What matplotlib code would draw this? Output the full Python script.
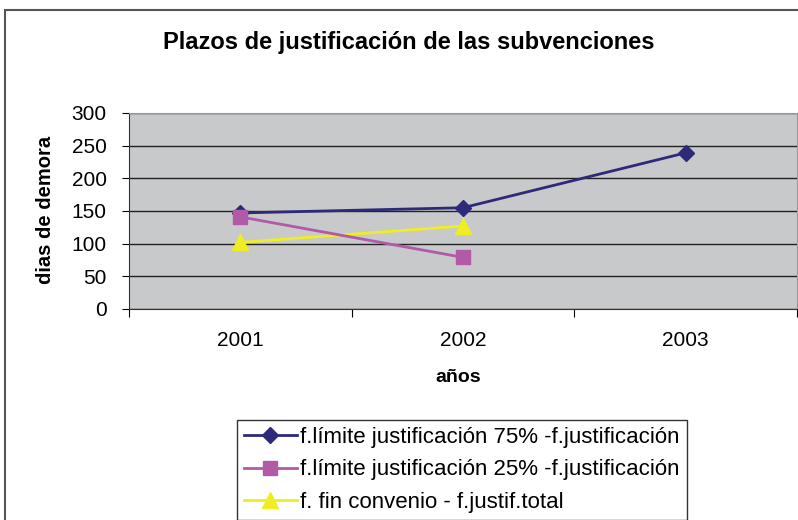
import matplotlib
matplotlib.use("Agg")
import matplotlib.pyplot as plt
from matplotlib.patches import Rectangle

# Datos
years = ["2001", "2002", "2003"]
lim75 = [147, 155, 239]
lim25 = [141, 79]
fin_conv = [102, 127]

labels = [
    "f.límite justificación 75% -f.justificación",
    "f.límite justificación 25% -f.justificación",
    "f. fin convenio - f.justif.total",
]

plt.rcParams["font.family"] = ["Liberation Sans", "DejaVu Sans"]

fig = plt.figure(figsize=(7.98, 5.20), dpi=100)
ax = fig.add_axes([129 / 798, 1 - 309 / 520, (797 - 129) / 798, (309 - 113) / 520])

x = list(range(len(years)))
ax.plot(x, lim75, color="#2E2A7A", lw=2, marker="D", ms=8, label=labels[0], zorder=3)
ax.plot(x[:2], lim25, color="#B05AA8", lw=2, marker="s", ms=10, label=labels[1], zorder=4)
ax.plot(x[:2], fin_conv, color="#EEEE22", lw=2, marker="^", ms=11, label=labels[2], zorder=3)

ax.set_facecolor("#C8C9CB")
ax.set_xlim(-0.5, 2.5)
ax.set_ylim(0, 300)
ax.set_yticks(range(0, 301, 50))
ax.set_xticks([-0.5, 0.5, 1.5, 2.5], minor=False)
ax.set_xticklabels([])
ax.set_xticks(x, minor=True)
ax.set_xticklabels(years, minor=True)
ax.tick_params(axis="x", which="minor", length=0, pad=16, labelsize=15)
ax.tick_params(axis="x", which="major", length=6, direction="out")
ax.tick_params(axis="y", length=5, labelsize=15, pad=11)
ax.grid(axis="y", color="#222222", lw=1)
for s in ["top", "right"]:
    ax.spines[s].set_color("#999999")
ax.spines["left"].set_color("#333333")
ax.spines["bottom"].set_color("#333333")

fig.text(409 / 798, 1 - 42 / 520, "Plazos de justificación de las subvenciones",
         ha="center", va="center", fontsize=17, fontweight="bold")
fig.text(46 / 798, 1 - 210 / 520, "dias de demora", rotation=90,
         ha="center", va="center", fontsize=14.5, fontweight="bold")
fig.text(458 / 798, 1 - 378 / 520, "años",
         ha="center", va="center", fontsize=14, fontweight="bold")

leg = fig.legend(loc="upper left", bbox_to_anchor=(237 / 798, 1 - 420 / 520),
                 fontsize=16, frameon=True, fancybox=False, edgecolor="black",
                 handlelength=2.4, handletextpad=0.15, borderaxespad=0,
                 labelspacing=0.53, borderpad=0.3)
leg.get_frame().set_linewidth(1)

fig.patches.append(Rectangle((5 / 798, -0.1), 2, 1.1 - 10 / 520, transform=fig.transFigure,
                             fill=False, edgecolor="#555555", lw=1.5))

fig.savefig("out.png", dpi=100)
